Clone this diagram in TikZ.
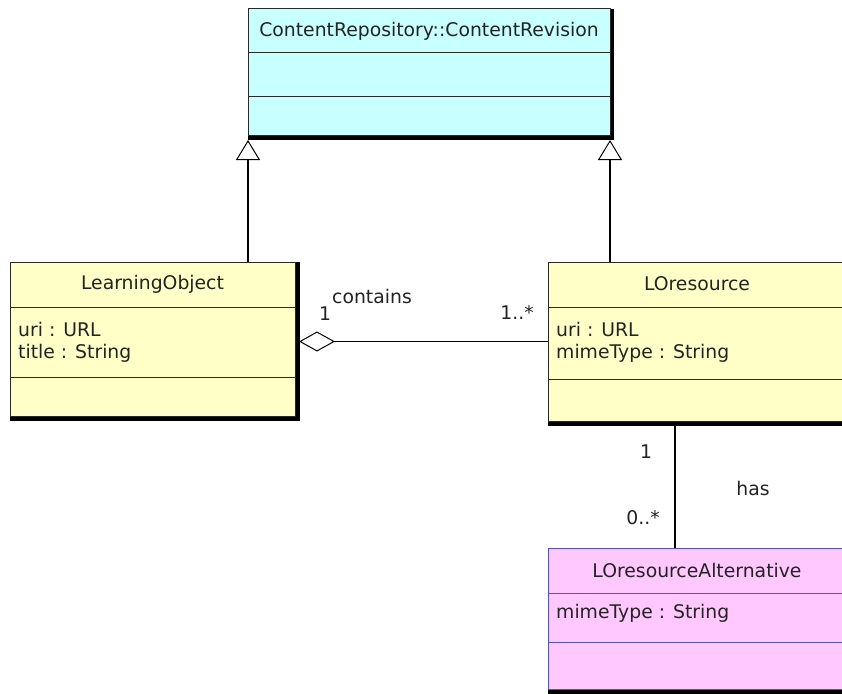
\documentclass[tikz,border=0pt]{standalone}
\usepackage{fontspec}
\setmainfont{DejaVu Sans}
\usetikzlibrary{arrows.meta,backgrounds}
\definecolor{cyanfill}{RGB}{200,255,255}
\definecolor{yelfill}{RGB}{255,255,200}
\definecolor{pinkfill}{RGB}{255,200,255}
\definecolor{boxline}{RGB}{40,40,40}
\definecolor{blueline}{RGB}{80,80,210}
\definecolor{txt}{RGB}{35,35,35}
\tikzset{
  cls/.style={draw=boxline, line width=1pt, anchor=north west, inner sep=0pt, outer sep=0pt},
  sepline/.style={draw=boxline, line width=1pt},
  ttl/.style={font=\fontsize{18.8}{22}\selectfont, text=txt, inner sep=0pt, anchor=center},
  attr/.style={font=\fontsize{18.8}{22}\selectfont, text=txt, inner sep=0pt, anchor=west},
  lbl/.style={font=\fontsize{18.8}{22}\selectfont, text=txt, inner sep=0pt, anchor=center},
  conn/.style={draw=black, line width=1.1pt},
  gen/.style={conn, -{Triangle[open, length=20pt, width=24pt, line width=1pt]}},
  agg/.style={conn, {Diamond[open, length=36pt, width=20pt, line width=1pt]}-},
}
\begin{document}
\begin{tikzpicture}[x=1pt,y=-1pt]
\useasboundingbox (0,0) rectangle (842,693);
\clip (0,0) rectangle (842,693);

% ContentRevision
\node[cls, fill=cyanfill, minimum width=362pt, minimum height=126pt] (cr) at (248,9) {};
\draw[sepline] ([shift={(0,44)}]cr.north west) -- ([shift={(0,44)}]cr.north east);
\draw[sepline] ([shift={(0,87)}]cr.north west) -- ([shift={(0,87)}]cr.north east);
\node[ttl] (crt) at ([shift={(0,22)}]cr.north) {ContentRepository::ContentRevision};

% LearningObject
\node[cls, fill=yelfill, minimum width=285pt, minimum height=154pt] (lo) at (10,262) {};
\draw[sepline] ([shift={(0,45)}]lo.north west) -- ([shift={(0,45)}]lo.north east);
\draw[sepline] ([shift={(0,115)}]lo.north west) -- ([shift={(0,115)}]lo.north east);
\node[ttl] (lot) at ([shift={(0,22)}]lo.north) {LearningObject};
\node[attr] (loa1) at ([shift={(8,67)}]lo.north west) {uri : URL};
\node[attr] (loa2) at ([shift={(8,91)}]lo.north west) {title : String};

% LOresource
\node[cls, fill=yelfill, minimum width=298pt, minimum height=159pt] (lr) at (548,262) {};
\draw[sepline] ([shift={(0,45)}]lr.north west) -- ([shift={(0,45)}]lr.north east);
\draw[sepline] ([shift={(0,117)}]lr.north west) -- ([shift={(0,117)}]lr.north east);
\node[ttl] (lrt) at ([shift={(0,22)}]lr.north) {LOresource};
\node[attr] (lra1) at ([shift={(8,67)}]lr.north west) {uri : URL};
\node[attr] (lra2) at ([shift={(8,91)}]lr.north west) {mimeType : String};

% LOresourceAlternative
\node[cls, draw=blueline, fill=pinkfill, minimum width=298pt, minimum height=141pt] (alt) at (548,548) {};
\draw[sepline, draw=blueline] ([shift={(0,45)}]alt.north west) -- ([shift={(0,45)}]alt.north east);
\draw[sepline, draw=blueline] ([shift={(0,94)}]alt.north west) -- ([shift={(0,94)}]alt.north east);
\node[ttl] (altt) at ([shift={(0,22)}]alt.north) {LOresourceAlternative};
\node[attr] (alta1) at ([shift={(8,65)}]alt.north west) {mimeType : String};

% shadows
\begin{scope}[on background layer]
\fill[white] (0,0) rectangle (842,693);
\fill[black] (cr.north west) rectangle ([shift={(4,5)}]cr.south east);
\fill[black] (lo.north west) rectangle ([shift={(5,5)}]lo.south east);
\fill[black] (lr.north west) rectangle ([shift={(5,5)}]lr.south east);
\fill[black] (alt.north west) rectangle ([shift={(5,5)}]alt.south east);
\end{scope}

% connectors
\draw[gen] (lo.north -| cr.west) -- ([shift={(0,5)}]cr.south west);
\draw[gen] (lr.north -| cr.east) -- ([shift={(0,5)}]cr.south east);
\draw[agg, shorten <=4pt] (lo.east |- lr.west) -- (lr.west);
\draw[conn] ([shift={(127,5)}]lr.south west) -- ([shift={(127,0)}]alt.north west);

% labels
\node[lbl] (m1) at (325,314) {1};
\node[lbl] (mc) at (372,296) {contains};
\node[lbl] (m2) at (517,313) {1..*};
\node[lbl] (m3) at (646,452) {1};
\node[lbl] (mh) at (753,488) {has};
\node[lbl] (m4) at (643,518) {0..*};
\end{tikzpicture}
\end{document}
